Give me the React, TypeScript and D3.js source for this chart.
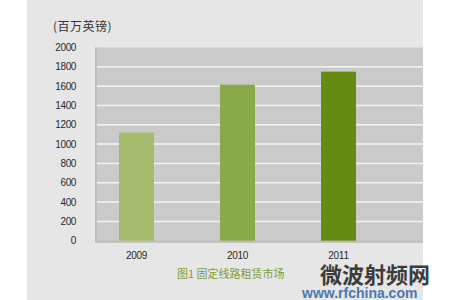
import React from "react";
import * as d3 from "d3";

const categories = ["2009", "2010", "2011"];
const values = [1120, 1615, 1750];
const barColors = ["#a5bb6d", "#8aaa49", "#668b12"];
const yTicks = [0, 200, 400, 600, 800, 1000, 1200, 1400, 1600, 1800, 2000];
const unitLabel = "(百万英镑)";
const caption = "图1 固定线路租赁市场";

export default function App() {
  const W = 450, H = 300;
  const plotL = 95, plotR = 423, plotT = 47.5, plotB = 240.7;
  const y = d3.scaleLinear().domain([0, 2000]).range([plotB, plotT]);
  const x = d3.scalePoint<string>().domain(categories).range([136.5, 338.5]);
  const bw = 35;
  const font = "'Liberation Sans', Arial, sans-serif";
  const cjk = "'Noto Sans CJK SC', 'Liberation Sans', sans-serif";
  return (
    <svg width={W} height={H} style={{ position: "absolute", left: 0, top: 0, background: "#fff" }}>
      <rect x={27} y={0} width={396} height={300} fill="#e6e6e6" />
      <rect x={plotL} y={plotT} width={plotR - plotL} height={plotB - plotT + 2} fill="#c9cac9" />
      <rect x={plotL} y={plotT} width={2} height={plotB - plotT + 2} fill="#bdbebd" />
      <rect x={plotL} y={plotB} width={plotR - plotL} height={2} fill="#bdbebd" />
      {yTicks.filter(t => t > 0 && t < 2000).map(t => (
        <line key={t} x1={plotL + 2} x2={plotR} y1={y(t)} y2={y(t)} stroke="#f4f4f4" strokeWidth={1.5} />
      ))}
      {categories.map((c, i) => (
        <rect key={c} x={(x(c) as number) - bw / 2} y={y(values[i])} width={bw} height={plotB - y(values[i])} fill={barColors[i]} />
      ))}
      {yTicks.map(t => (
        <text key={t} x={76} y={y(t) + 3.5} textAnchor="end" fontFamily={font} fontSize={10} fill="#2a2a2a" letterSpacing={-0.4}>{t}</text>
      ))}
      {categories.map(c => (
        <text key={c} x={x(c) as number} y={258.5} textAnchor="middle" fontFamily={font} fontSize={10} fill="#2a2a2a" letterSpacing={-0.3}>{c}</text>
      ))}
      <text x={53} y={31} fontFamily={cjk} fontSize={12} fill="#333" letterSpacing={0.5}>{unitLabel}</text>
      <text x={177} y={278} fontFamily={cjk} fontSize={11} fill="#7d9d3c">{caption}</text>
      <text x={320} y={283} fontFamily={cjk} fontSize={22} fontWeight="bold" fill="#2a2a2a" opacity={0.9}>微波射频网</text>
      <text x={302} y={298} fontFamily={font} fontSize={14} fontWeight="bold" fill="#3d6ea6" opacity={0.9}>www.rfchina.com</text>
    </svg>
  );
}
